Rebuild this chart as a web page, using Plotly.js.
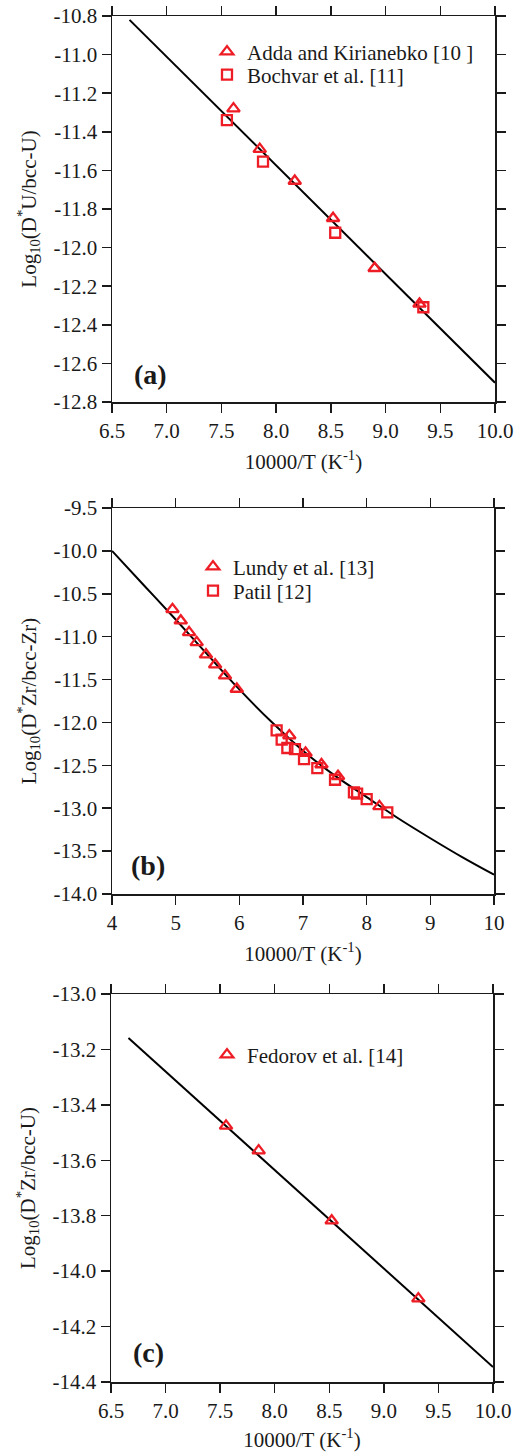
<!DOCTYPE html>
<html>
<head>
<meta charset="utf-8">
<script src="https://cdn.plot.ly/plotly-3.0.1.min.js"></script>
<style>
html,body{margin:0;padding:0;background:#fff;}
#chart{width:528px;height:1452px;}
</style>
</head>
<body>
<div id="chart"></div>
<script>
// ---------- Panel (a): D*U in bcc-U ----------
const aLineX = [6.66, 10.0];
const aLineY = [-10.82, -12.70];
const addaX = [7.61, 7.85, 8.17, 8.52, 8.90, 9.31];
const addaY = [-11.28, -11.49, -11.655, -11.848, -12.107, -12.292];
const bochvarX = [7.55, 7.88, 8.54, 9.345];
const bochvarY = [-11.339, -11.555, -11.923, -12.309];

// ---------- Panel (b): D*Zr in bcc-Zr ----------
const bLineX = [4.0, 4.5, 5.0, 5.5, 6.0, 6.5, 7.0, 7.5, 8.0, 8.5, 9.0, 9.5, 10.0];
const bLineY = [-10.0, -10.40, -10.80, -11.21, -11.615, -11.99, -12.33, -12.62, -12.87, -13.12, -13.35, -13.57, -13.775];
const lundyX = [4.95, 5.08, 5.21, 5.33, 5.476, 5.62, 5.775, 5.96, 6.785, 7.04, 7.29, 7.55, 8.2];
const lundyY = [-10.681, -10.814, -10.950, -11.066, -11.210, -11.327, -11.455, -11.610, -12.153, -12.356, -12.490, -12.627, -12.979];
const patilX = [6.586, 6.665, 6.754, 6.874, 7.016, 7.225, 7.503, 7.80, 7.85, 8.0, 8.324];
const patilY = [-12.092, -12.201, -12.298, -12.31, -12.427, -12.532, -12.668, -12.816, -12.83, -12.893, -13.049];

// ---------- Panel (c): D*Zr in bcc-U ----------
const cLineX = [6.66, 10.0];
const cLineY = [-13.159, -14.346];
const fedorovX = [7.554, 7.853, 8.522, 9.316];
const fedorovY = [-13.476, -13.565, -13.818, -14.099];

// ---------- Tick labels ----------
const xTicksA = [6.5, 7.0, 7.5, 8.0, 8.5, 9.0, 9.5, 10.0];
const xLabelsA = ['6.5', '7.0', '7.5', '8.0', '8.5', '9.0', '9.5', '10.0'];
const yTicksA = [-10.8, -11.0, -11.2, -11.4, -11.6, -11.8, -12.0, -12.2, -12.4, -12.6, -12.8];
const yLabelsA = ['-10.8', '-11.0', '-11.2', '-11.4', '-11.6', '-11.8', '-12.0', '-12.2', '-12.4', '-12.6', '-12.8'];
const xTicksB = [4, 5, 6, 7, 8, 9, 10];
const xLabelsB = ['4', '5', '6', '7', '8', '9', '10'];
const yTicksB = [-9.5, -10.0, -10.5, -11.0, -11.5, -12.0, -12.5, -13.0, -13.5, -14.0];
const yLabelsB = ['-9.5', '-10.0', '-10.5', '-11.0', '-11.5', '-12.0', '-12.5', '-13.0', '-13.5', '-14.0'];
const xTicksC = xTicksA;
const xLabelsC = xLabelsA;
const yTicksC = [-13.0, -13.2, -13.4, -13.6, -13.8, -14.0, -14.2, -14.4];
const yLabelsC = ['-13.0', '-13.2', '-13.4', '-13.6', '-13.8', '-14.0', '-14.2', '-14.4'];

const FONT = 'Liberation Serif';
const INK = '#1a1a1a';
const RED = '#ee1c25';

function axisStyle(extra) {
  return Object.assign({
    showline: true, linecolor: INK, linewidth: 1.5, mirror: 'ticks',
    ticks: 'outside', ticklen: 9, tickwidth: 1.5, tickcolor: INK,
    showgrid: false, zeroline: false, fixedrange: true,
    tickmode: 'array', automargin: false,
    tickfont: {family: FONT, size: 21, color: INK}
  }, extra);
}

const tri = {symbol: 'triangle-up-open', size: 11, color: RED, line: {color: RED, width: 2.3}};
const sq = {symbol: 'square-open', size: 10, color: RED, line: {color: RED, width: 2.3}};

const data = [
  {x: aLineX, y: aLineY, xaxis: 'x', yaxis: 'y', mode: 'lines', line: {color: '#000', width: 2}, showlegend: false},
  {x: addaX, y: addaY, xaxis: 'x', yaxis: 'y', mode: 'markers', marker: tri, name: 'Adda and Kirianebko [10 ]', legend: 'legend'},
  {x: bochvarX, y: bochvarY, xaxis: 'x', yaxis: 'y', mode: 'markers', marker: sq, name: 'Bochvar et al. [11]', legend: 'legend2'},

  {x: bLineX, y: bLineY, xaxis: 'x2', yaxis: 'y2', mode: 'lines', line: {color: '#000', width: 2, shape: 'spline'}, showlegend: false},
  {x: lundyX, y: lundyY, xaxis: 'x2', yaxis: 'y2', mode: 'markers', marker: tri, name: 'Lundy et al. [13]', legend: 'legend3'},
  {x: patilX, y: patilY, xaxis: 'x2', yaxis: 'y2', mode: 'markers', marker: sq, name: 'Patil [12]', legend: 'legend4'},

  {x: cLineX, y: cLineY, xaxis: 'x3', yaxis: 'y3', mode: 'lines', line: {color: '#000', width: 2}, showlegend: false},
  {x: fedorovX, y: fedorovY, xaxis: 'x3', yaxis: 'y3', mode: 'markers', marker: tri, name: 'Fedorov et al. [14]', legend: 'legend5'}
];

const W = 528, H = 1452;
function leg(px, py, fs) {
  return {x: px/W, y: 1-py/H, xanchor: 'left', yanchor: 'middle', bgcolor: 'rgba(0,0,0,0)', borderwidth: 0,
          font: {family: FONT, size: fs, color: INK}, tracegroupgap: 0, itemclick: false, itemdoubleclick: false};
}

const xTitle = {text: '10000/T (K<sup>-1</sup>)', font: {family: FONT, size: 21, color: INK}, standoff: 12};
function yTitle(t) { return {text: t, font: {family: FONT, size: 21, color: INK}, standoff: 11}; }

function panelLabel(t, px, py) {
  return {text: '<b>' + t + '</b>', xref: 'paper', yref: 'paper', x: px/W, y: 1-py/H, xanchor: 'left', yanchor: 'middle',
          showarrow: false, font: {family: FONT, size: 28, color: INK}};
}

const layout = {
  width: W, height: H,
  margin: {l: 0, r: 0, t: 0, b: 0},
  paper_bgcolor: '#fff', plot_bgcolor: '#fff',
  font: {family: FONT, color: INK},
  xaxis: axisStyle({domain: [112/W, 495/W], range: [6.5, 10.0], anchor: 'y', tickvals: xTicksA, ticktext: xLabelsA, title: xTitle}),
  yaxis: axisStyle({domain: [1-402/H, 1-16/H], range: [-12.8, -10.8], anchor: 'x', tickvals: yTicksA, ticktext: yLabelsA, title: yTitle('Log<sub>10</sub>(D<sup>*</sup>U/bcc-U)')}),
  xaxis2: axisStyle({domain: [112/W, 494/W], range: [4, 10], anchor: 'y2', tickvals: xTicksB, ticktext: xLabelsB, title: xTitle}),
  yaxis2: axisStyle({domain: [1-894/H, 1-508/H], range: [-14.0, -9.5], anchor: 'x2', tickvals: yTicksB, ticktext: yLabelsB, title: yTitle('Log<sub>10</sub>(D<sup>*</sup>Zr/bcc-Zr)')}),
  xaxis3: axisStyle({domain: [111/W, 493/W], range: [6.5, 10.0], anchor: 'y3', tickvals: xTicksC, ticktext: xLabelsC, title: xTitle}),
  yaxis3: axisStyle({domain: [1-1382/H, 1-994/H], range: [-14.4, -13.0], anchor: 'x3', tickvals: yTicksC, ticktext: yLabelsC, title: yTitle('Log<sub>10</sub>(D<sup>*</sup>Zr/bcc-U)')}),
  legend: leg(207, 52, 21),
  legend2: leg(207, 75, 21),
  legend3: leg(193, 567, 21),
  legend4: leg(193, 591, 21),
  legend5: leg(207, 1055, 21),
  annotations: [
    panelLabel('(a)', 132, 375),
    panelLabel('(b)', 129, 865),
    panelLabel('(c)', 131, 1352)
  ]
};

Plotly.newPlot('chart', data, layout, {displayModeBar: false, staticPlot: true});
</script>
</body>
</html>
